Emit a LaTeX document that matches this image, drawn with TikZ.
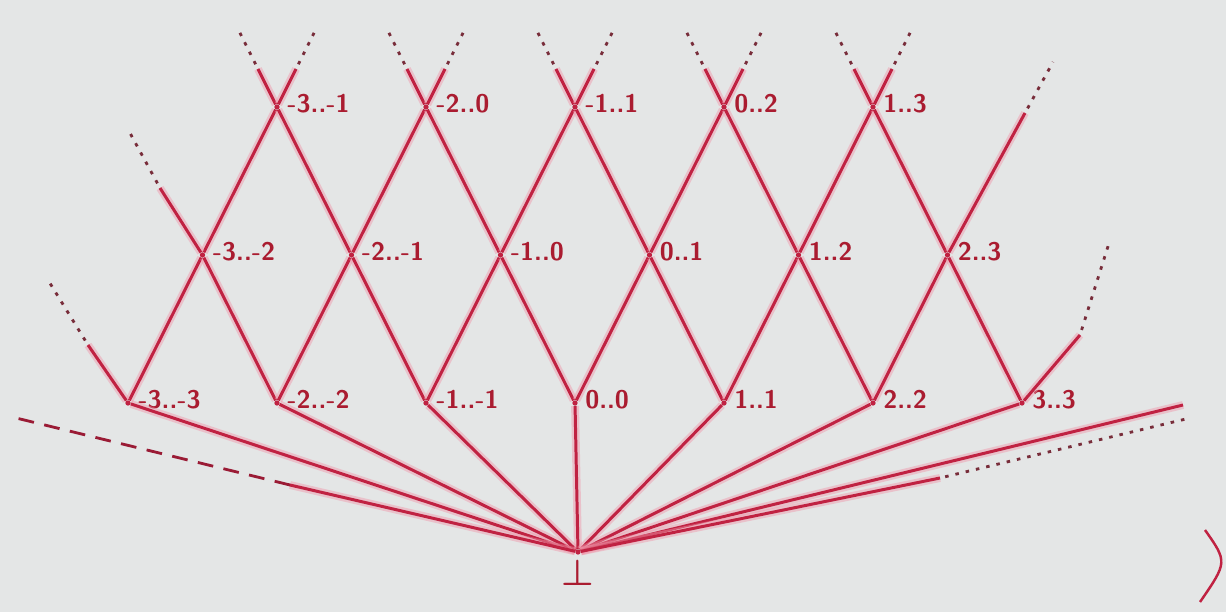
\documentclass[tikz,border=0pt]{standalone}
\usetikzlibrary{positioning}

\definecolor{paper}{RGB}{228,230,230}
\definecolor{inkred}{RGB}{192,34,66}
\definecolor{glow}{RGB}{240,150,170}
\definecolor{labred}{RGB}{170,28,48}
\definecolor{dotred}{RGB}{120,45,58}

\begin{document}
\begin{tikzpicture}[
    pt/.style={circle, fill=inkred, inner sep=0pt, minimum size=3pt},
    lab/.style={text=labred, font=\sffamily\bfseries\fontsize{14.5}{16}\selectfont, inner sep=1pt, yshift=2pt},
    edge/.style={draw=inkred, line width=1.7pt, preaction={draw=glow, line width=4.5pt, opacity=.45}},
    dotline/.style={draw=dotred, line width=1.6pt, dash pattern=on 2pt off 4pt, dash phase=3pt},
    longdash/.style={draw=inkred!80!black, line width=1.6pt, dash pattern=on 9pt off 6pt},
    every label/.style={lab},
    label distance=3pt
  ]
    \fill[paper] (0,0) rectangle (24.52,12.24);
    \useasboundingbox (0,0) rectangle (24.52,12.24);

    % bottom row
    \node[pt, label=right:{-3..-3}] (b1) at (2.56,4.18) {};
    \node[pt, label=right:{-2..-2}] (b2) at (5.54,4.18) {};
    \node[pt, label=right:{-1..-1}] (b3) at (8.52,4.18) {};
    \node[pt, label=right:{0..0}]   (b4) at (11.50,4.18) {};
    \node[pt, label=right:{1..1}]   (b5) at (14.48,4.18) {};
    \node[pt, label=right:{2..2}]   (b6) at (17.46,4.18) {};
    \node[pt, label=right:{3..3}]   (b7) at (20.44,4.18) {};
    % middle row
    \node[pt, label=right:{-3..-2}] (m1) at (4.05,7.14) {};
    \node[pt, label=right:{-2..-1}] (m2) at (7.03,7.14) {};
    \node[pt, label=right:{-1..0}]  (m3) at (10.01,7.14) {};
    \node[pt, label=right:{0..1}]   (m4) at (12.99,7.14) {};
    \node[pt, label=right:{1..2}]   (m5) at (15.97,7.14) {};
    \node[pt, label=right:{2..3}]   (m6) at (18.95,7.14) {};
    % top row
    \node[pt, label=right:{-3..-1}] (t1) at (5.54,10.10) {};
    \node[pt, label=right:{-2..0}]  (t2) at (8.52,10.10) {};
    \node[pt, label=right:{-1..1}]  (t3) at (11.50,10.10) {};
    \node[pt, label=right:{0..2}]   (t4) at (14.48,10.10) {};
    \node[pt, label=right:{1..3}]   (t5) at (17.46,10.10) {};
    % bottom element
    \node[pt, label={[text=labred, font=\fontsize{20}{22}\selectfont\boldmath, yshift=-1pt]below:{$\bot$}}] (bot) at (11.56,1.20) {};

    % free ends of the open lines
    \coordinate (bl1) at (1.76,5.34);  \coordinate (bl2) at (0.96,6.64);
    \coordinate (br1) at (21.60,5.54); \coordinate (br2) at (22.20,7.44);
    \coordinate (ml1) at (3.20,8.48);  \coordinate (ml2) at (2.60,9.58);
    \coordinate (mr1) at (20.50,9.98); \coordinate (mr2) at (21.06,11.00);
    \coordinate (ll1) at (5.80,2.54);  \coordinate (ll2) at (0.24,3.90);
    \coordinate (rr1) at (18.80,2.68); \coordinate (rr2) at (23.80,3.88);
    \coordinate (rr3) at (23.66,4.14);

    % bottom to middle
    \draw[edge] (b1) -- (m1);
    \draw[edge] (b2) -- (m1);
    \draw[edge] (b2) -- (m2);
    \draw[edge] (b3) -- (m2);
    \draw[edge] (b3) -- (m3);
    \draw[edge] (b4) -- (m3);
    \draw[edge] (b4) -- (m4);
    \draw[edge] (b5) -- (m4);
    \draw[edge] (b5) -- (m5);
    \draw[edge] (b6) -- (m5);
    \draw[edge] (b6) -- (m6);
    \draw[edge] (b7) -- (m6);
    % middle to top
    \draw[edge] (m1) -- (t1);
    \draw[edge] (m2) -- (t1);
    \draw[edge] (m2) -- (t2);
    \draw[edge] (m3) -- (t2);
    \draw[edge] (m3) -- (t3);
    \draw[edge] (m4) -- (t3);
    \draw[edge] (m4) -- (t4);
    \draw[edge] (m5) -- (t4);
    \draw[edge] (m5) -- (t5);
    \draw[edge] (m6) -- (t5);

    % lines running on past the edge
    \draw[edge] (b1) -- (bl1);  \draw[dotline] (bl1) -- (bl2);
    \draw[edge] (b7) -- (br1);  \draw[dotline] (br1) -- (br2);
    \draw[edge] (m1) -- (ml1);  \draw[dotline] (ml1) -- (ml2);
    \draw[edge] (m6) -- (mr1);  \draw[dotline] (mr1) -- (mr2);
    \draw[edge] (t1) -- ++(-0.38,0.76) coordinate (t1l); \draw[dotline] (t1l) -- ++(-0.42,0.84);
    \draw[edge] (t1) -- ++(0.38,0.76) coordinate (t1r);  \draw[dotline] (t1r) -- ++(0.42,0.84);
    \draw[edge] (t2) -- ++(-0.38,0.76) coordinate (t2l); \draw[dotline] (t2l) -- ++(-0.42,0.84);
    \draw[edge] (t2) -- ++(0.38,0.76) coordinate (t2r);  \draw[dotline] (t2r) -- ++(0.42,0.84);
    \draw[edge] (t3) -- ++(-0.38,0.76) coordinate (t3l); \draw[dotline] (t3l) -- ++(-0.42,0.84);
    \draw[edge] (t3) -- ++(0.38,0.76) coordinate (t3r);  \draw[dotline] (t3r) -- ++(0.42,0.84);
    \draw[edge] (t4) -- ++(-0.38,0.76) coordinate (t4l); \draw[dotline] (t4l) -- ++(-0.42,0.84);
    \draw[edge] (t4) -- ++(0.38,0.76) coordinate (t4r);  \draw[dotline] (t4r) -- ++(0.42,0.84);
    \draw[edge] (t5) -- ++(-0.38,0.76) coordinate (t5l); \draw[dotline] (t5l) -- ++(-0.42,0.84);
    \draw[edge] (t5) -- ++(0.38,0.76) coordinate (t5r);  \draw[dotline] (t5r) -- ++(0.42,0.84);

    % bottom element to the bottom row
    \draw[edge] (bot) -- (b1);
    \draw[edge] (bot) -- (b2);
    \draw[edge] (bot) -- (b3);
    \draw[edge] (bot) -- (b4);
    \draw[edge] (bot) -- (b5);
    \draw[edge] (bot) -- (b6);
    \draw[edge] (bot) -- (b7);
    \draw[edge] (bot) -- (rr3);
    \draw[edge] (bot) -- (ll1);  \draw[longdash] (ll1) -- (ll2);
    \draw[edge] (bot) -- (rr1);  \draw[dotline] (rr1) -- (rr2);

    % stray bracket at the page corner
    \draw[inkred, line width=1.4pt] (24.10,1.64) .. controls (24.55,1.00) .. (24.00,0.20);
  \end{tikzpicture}
\end{document}
